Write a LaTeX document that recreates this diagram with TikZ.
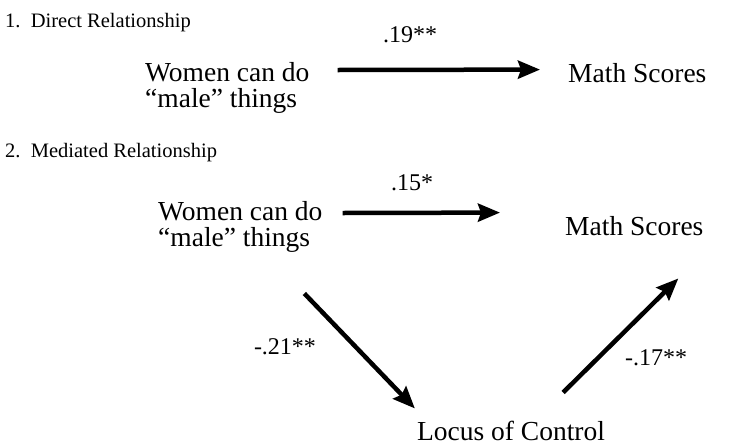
\documentclass[tikz,border=0pt]{standalone}
\usepackage{fontspec}
\setmainfont{Liberation Serif}
\usetikzlibrary{arrows.meta}

\begin{document}
\begin{tikzpicture}[x=1pt,y=-1pt,
	var/.style={inner sep=0pt, align=left, font=\fontsize{27.5}{25.5}\selectfont},
	coef/.style={inner sep=0pt, font=\fontsize{24}{28}\selectfont},
	head/.style={inner sep=0pt, anchor=base west, font=\fontsize{20.5}{24}\selectfont},
	link/.style={line width=4.5pt, -{Stealth[length=22pt,width=18pt,inset=3pt]}}]
	
	\useasboundingbox (0,0) rectangle (745,445);
	
	% 1. direct path
	\node[head] (head1) at (5,27) {1.\ \ Direct Relationship};
	\node[var, anchor=west] (women1) at (145,88) {Women can do\\“male” things};
	\node[var, anchor=base west] (math1) at (568,82) {Math Scores};
	\node[coef, anchor=base] (c19) at (410,42) {.19**};
	\draw[link] ([shift={(28pt,18pt)}]women1.east) -- ([shift={(-28pt,3pt)}]math1.west);
	
	% 2. mediated path
	\node[head] (head2) at (5,157) {2.\ \ Mediated Relationship};
	\node[var, anchor=west] (women2) at (158,227) {Women can do\\“male” things};
	\node[var, anchor=base west] (math2) at (565,235) {Math Scores};
	\node[var, anchor=base] (locus) at (511,440) {Locus of Control};
	\node[coef, anchor=base] (c15) at (412,190) {.15*};
	\node[coef] (c21) at (285,347) {-.21**};
	\node[coef] (c17) at (656,358) {-.17**};
	
	\draw[link] ([shift={(20pt,14pt)}]women2.east) -- ([shift={(-65pt,13pt)}]math2.west);
	\draw[link] ([shift={(64pt,-41pt)}]women2.south) -- ([shift={(-2pt,12pt)}]locus.north west);
	\draw[link] ([shift={(-42pt,28pt)}]locus.north east) -- ([shift={(44pt,-43pt)}]math2.south);
	
\end{tikzpicture}
\end{document}
